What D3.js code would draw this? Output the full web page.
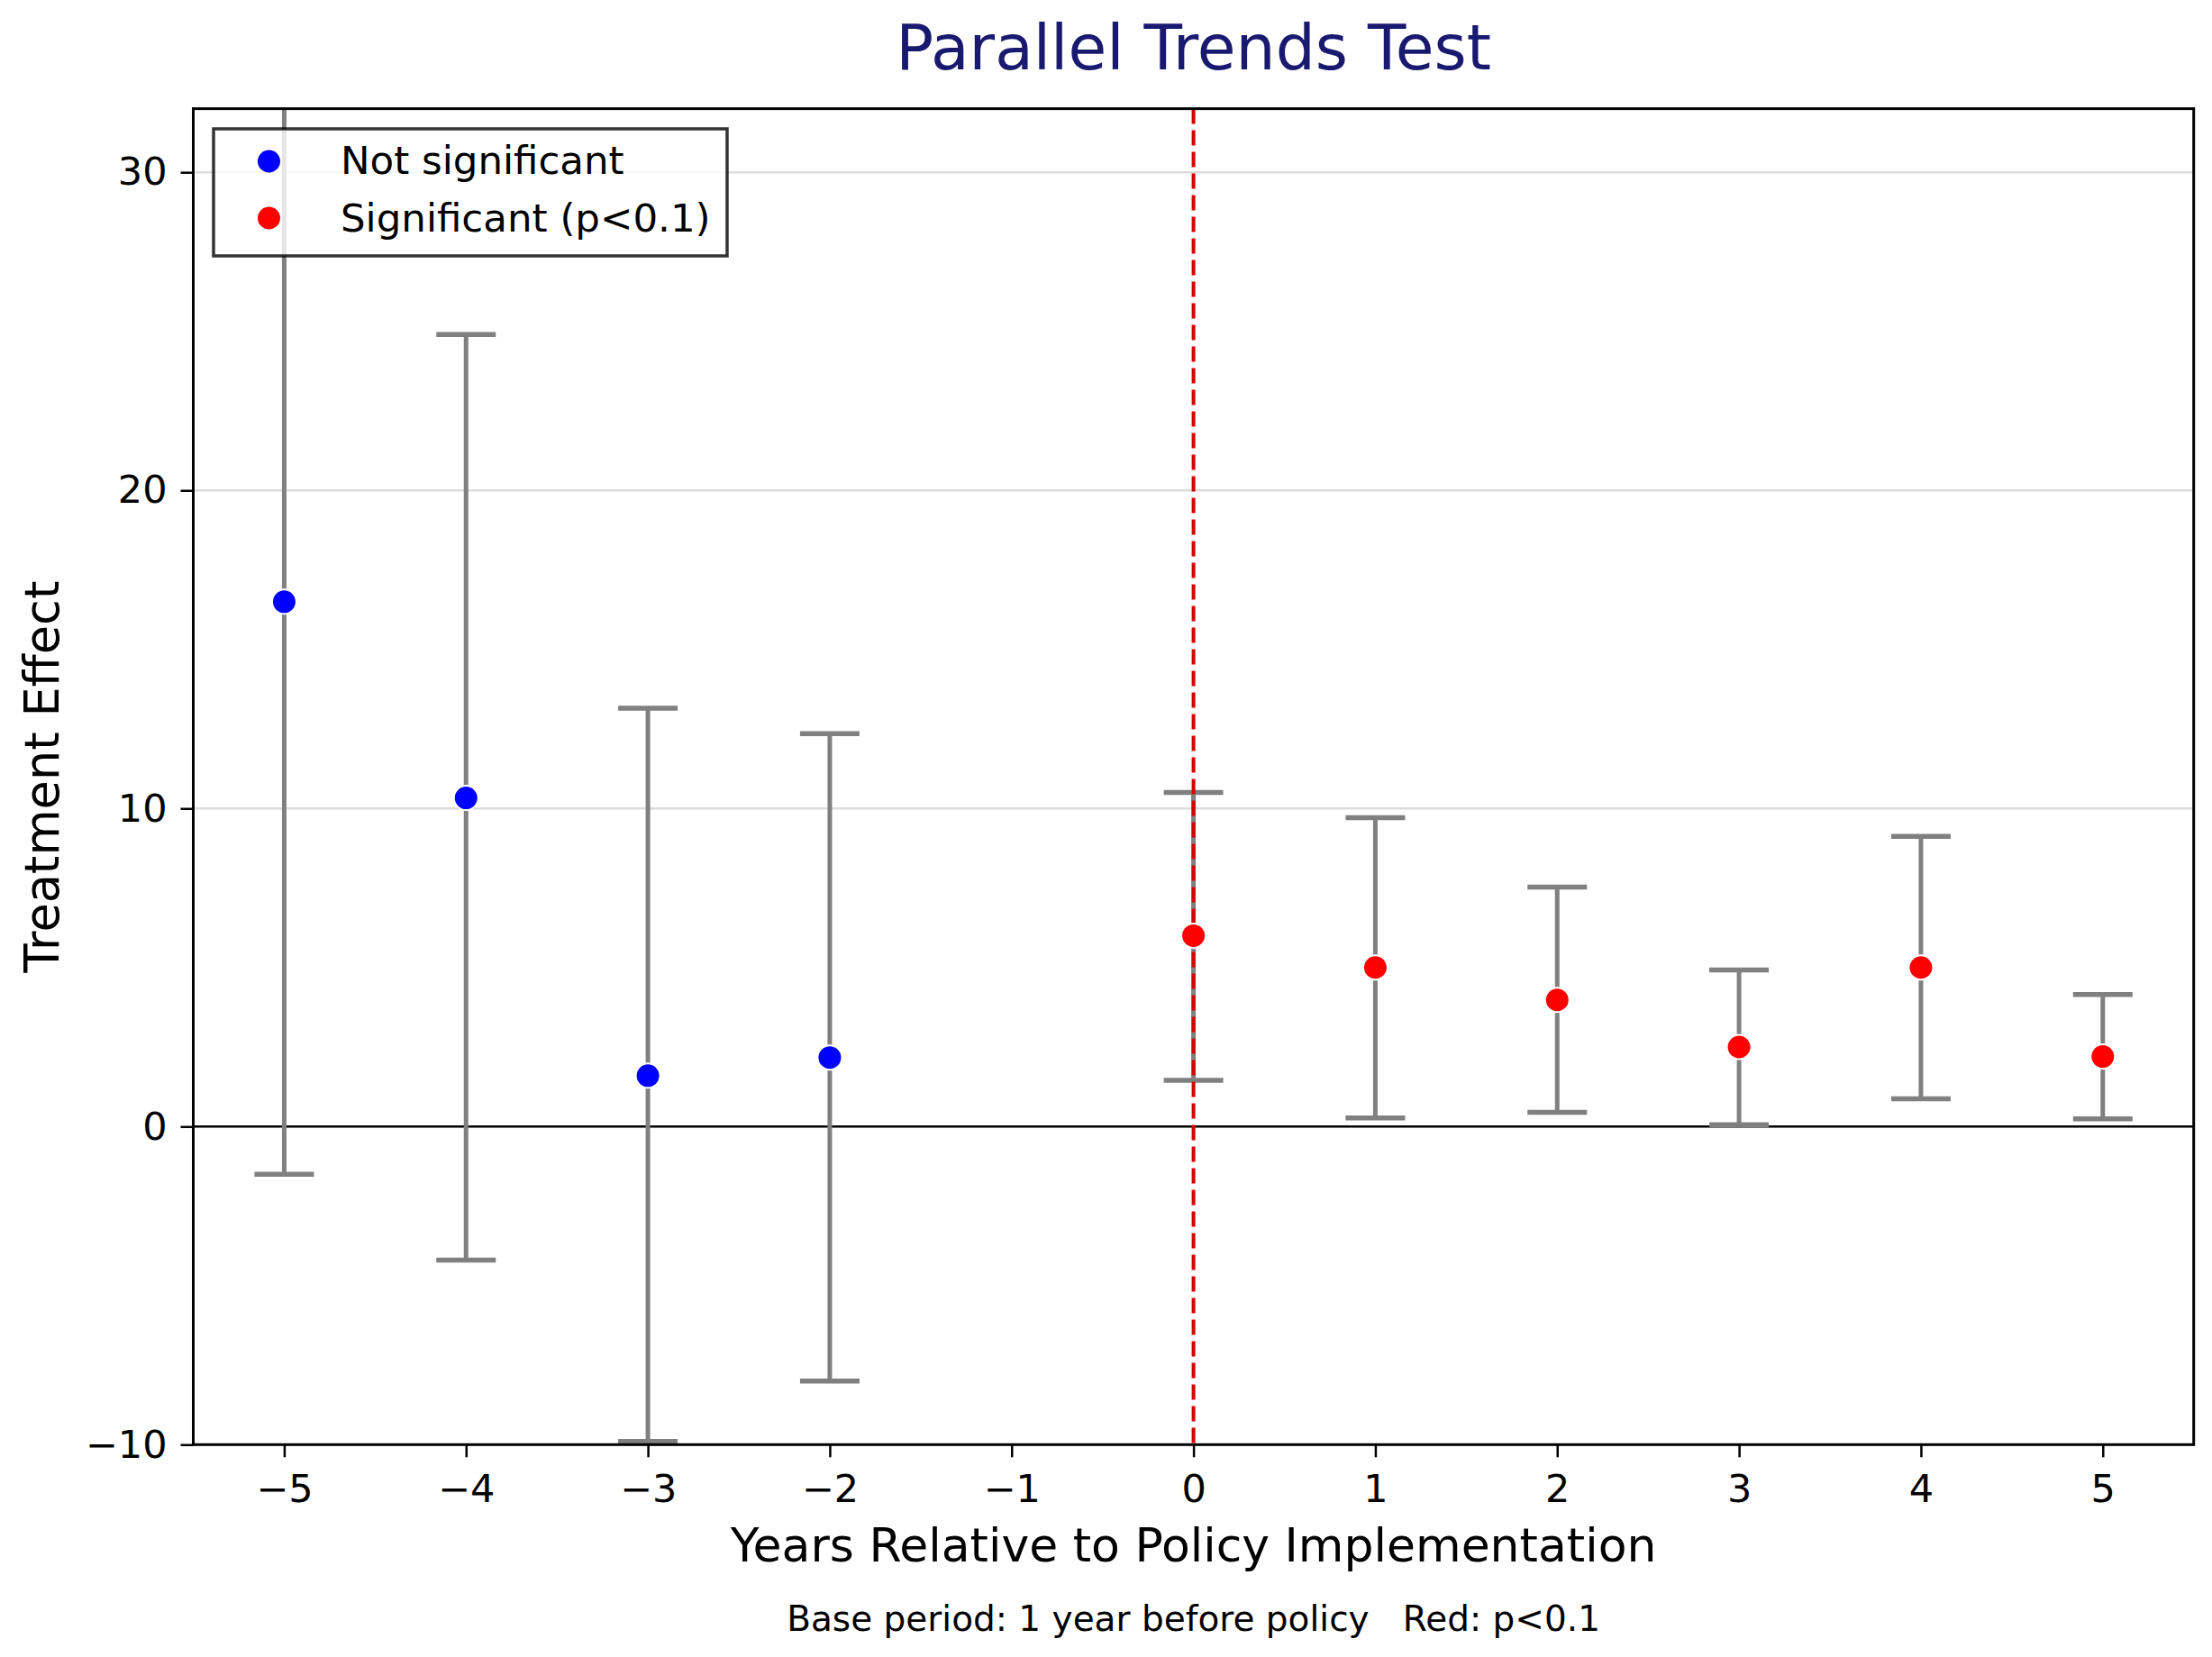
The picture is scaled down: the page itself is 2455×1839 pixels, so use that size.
<!DOCTYPE html>
<html>
<head>
<meta charset="utf-8">
<script src="https://cdn.jsdelivr.net/npm/d3@7"></script>
<style>
  body { margin: 0; background: #fff; }
  text { font-family: "DejaVu Sans", sans-serif; }
</style>
</head>
<body>
<div id="chart"></div>
<script>
// event-study estimates, base year (-1) left out
const years = [-5, -4, -3, -2, 0, 1, 2, 3, 4, 5];
const coef = [16.5, 10.33, 1.6, 2.17, 6.0, 5.0, 3.98, 2.5, 5.0, 2.2];
const ciLow = [-1.5, -4.2, -9.9, -8.0, 1.45, 0.27, 0.45, 0.06, 0.87, 0.24];
const ciHigh = [34.5, 24.9, 13.15, 12.35, 10.5, 9.71, 7.53, 4.92, 9.12, 4.15];
const significant = [false, false, false, false, true, true, true, true, true, true];

const xTicks = [-5, -4, -3, -2, -1, 0, 1, 2, 3, 4, 5];
const yTicks = [-10, 0, 10, 20, 30];
const legendLabels = ["Not significant", "Significant (p<0.1)"];

const W = 2455, H = 1839;
// plot box in pixels
const MARGINS = {left: 214.5, right: 2455 - 2434.7, top: 120.6, bottom: 1839 - 1603.3};

const svg = d3.select("#chart")
  .append("svg")
  .attr("width", W)
  .attr("height", H);

const X_SCALE = d3.scaleLinear()
  .domain([-5.5, 5.5])
  .range([MARGINS.left, W - MARGINS.right]);

const Y_SCALE = d3.scaleLinear()
  .domain([-10, 32])
  .range([H - MARGINS.bottom, MARGINS.top]);

const pts = years.map((yr, i) => ({
  yr: yr, c: coef[i], lo: ciLow[i], hi: ciHigh[i], sig: significant[i]
}));

svg.append("defs").append("clipPath")
  .attr("id", "plotclip")
  .append("rect")
    .attr("x", MARGINS.left)
    .attr("y", MARGINS.top)
    .attr("width", X_SCALE.range()[1] - MARGINS.left)
    .attr("height", Y_SCALE.range()[0] - MARGINS.top);

// horizontal grid
svg.append("g")
  .selectAll("line")
  .data(yTicks)
  .enter()
  .append("line")
    .attr("x1", X_SCALE.range()[0])
    .attr("x2", X_SCALE.range()[1])
    .attr("y1", d => Y_SCALE(d))
    .attr("y2", d => Y_SCALE(d))
    .attr("stroke", "#dcdcdc")
    .attr("stroke-width", 2.5);

// zero line
svg.append("line")
  .attr("x1", X_SCALE.range()[0])
  .attr("x2", X_SCALE.range()[1])
  .attr("y1", Y_SCALE(0))
  .attr("y2", Y_SCALE(0))
  .attr("stroke", "#000")
  .attr("stroke-width", 2.5);

const plot = svg.append("g").attr("clip-path", "url(#plotclip)");

// error bars
const CAP = 33;
const bars = plot.selectAll(".err")
  .data(pts)
  .enter()
  .append("g")
  .attr("class", "err")
  .attr("stroke", "#808080");

bars.append("line")
  .attr("x1", d => X_SCALE(d.yr))
  .attr("x2", d => X_SCALE(d.yr))
  .attr("y1", d => Y_SCALE(d.lo))
  .attr("y2", d => Y_SCALE(d.hi))
  .attr("stroke-width", 5);

bars.selectAll(".cap")
  .data(d => [d.lo, d.hi].map(v => ({yr: d.yr, v: v})))
  .enter()
  .append("line")
    .attr("x1", d => X_SCALE(d.yr) - CAP)
    .attr("x2", d => X_SCALE(d.yr) + CAP)
    .attr("y1", d => Y_SCALE(d.v))
    .attr("y2", d => Y_SCALE(d.v))
    .attr("stroke-width", 5.5);

// policy line
svg.append("line")
  .attr("x1", X_SCALE(0))
  .attr("x2", X_SCALE(0))
  .attr("y1", Y_SCALE.range()[1])
  .attr("y2", Y_SCALE.range()[0])
  .attr("stroke", "#d80000")
  .attr("stroke-width", 4)
  .attr("stroke-dasharray", "17,7");

// points
svg.selectAll(".point")
  .data(pts)
  .enter()
  .append("circle")
    .attr("class", "point")
    .attr("cx", d => X_SCALE(d.yr))
    .attr("cy", d => Y_SCALE(d.c))
    .attr("r", 13.5)
    .attr("fill", d => d.sig ? "#ff0000" : "#0000ff")
    .attr("stroke", "#fff")
    .attr("stroke-width", 2);

// axes
const xAxis = svg.append("g")
  .attr("transform", "translate(0," + Y_SCALE.range()[0] + ")")
  .call(d3.axisBottom(X_SCALE).tickValues(xTicks).tickSize(14).tickPadding(19));

const yAxis = svg.append("g")
  .attr("transform", "translate(" + MARGINS.left + ",0)")
  .call(d3.axisLeft(Y_SCALE).tickValues(yTicks).tickSize(14).tickPadding(15));

[xAxis, yAxis].forEach(ax => {
  ax.select(".domain").remove();
  ax.selectAll(".tick line").attr("stroke", "#000").attr("stroke-width", 2.5);
  ax.selectAll(".tick text")
    .attr("font-size", "43px")
    .attr("font-family", "DejaVu Sans")
    .attr("fill", "#000");
});

// spines
svg.append("rect")
  .attr("x", X_SCALE.range()[0])
  .attr("y", Y_SCALE.range()[1])
  .attr("width", X_SCALE.range()[1] - X_SCALE.range()[0])
  .attr("height", Y_SCALE.range()[0] - Y_SCALE.range()[1])
  .attr("fill", "none")
  .attr("stroke", "#000")
  .attr("stroke-width", 3);

// legend
const lg = svg.append("g");
lg.append("rect")
  .attr("x", 237)
  .attr("y", 143)
  .attr("width", 570)
  .attr("height", 141)
  .attr("fill", "#fff")
  .attr("fill-opacity", 0.8)
  .attr("stroke", "#000")
  .attr("stroke-opacity", 0.8)
  .attr("stroke-width", 3.5);

lg.selectAll("circle")
  .data(legendLabels)
  .enter()
  .append("circle")
    .attr("cx", 298.5)
    .attr("cy", (d, i) => 179 + i * 63)
    .attr("r", 12.5)
    .attr("fill", (d, i) => i ? "#ff0000" : "#0000ff");

lg.selectAll("text")
  .data(legendLabels)
  .enter()
  .append("text")
    .attr("x", 378)
    .attr("y", (d, i) => 193 + i * 64)
    .attr("font-size", "43.5px")
    .text(d => d);

// titles
const cx = (X_SCALE.range()[0] + X_SCALE.range()[1]) / 2;

svg.append("text")
  .attr("x", cx)
  .attr("y", 77)
  .attr("text-anchor", "middle")
  .attr("font-size", "69.5px")
  .attr("fill", "#191970")
  .text("Parallel Trends Test");

svg.append("text")
  .attr("x", cx)
  .attr("y", 1733)
  .attr("text-anchor", "middle")
  .attr("font-size", "52px")
  .text("Years Relative to Policy Implementation");

svg.append("text")
  .attr("transform", "translate(65," + ((Y_SCALE.range()[0] + Y_SCALE.range()[1]) / 2) + ") rotate(-90)")
  .attr("text-anchor", "middle")
  .attr("font-size", "52.5px")
  .text("Treatment Effect");

svg.append("text")
  .attr("x", cx)
  .attr("y", 1810)
  .attr("text-anchor", "middle")
  .attr("font-size", "39px")
  .style("white-space", "pre")
  .text("Base period: 1 year before policy   Red: p<0.1");
</script>
</body>
</html>
